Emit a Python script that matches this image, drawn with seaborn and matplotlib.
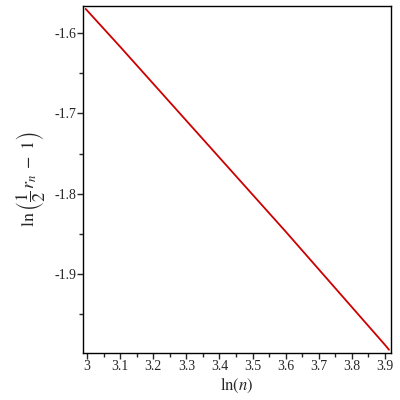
import matplotlib
matplotlib.use('Agg')
import matplotlib.pyplot as plt
import seaborn as sns
import pandas as pd
from matplotlib.ticker import MultipleLocator, FuncFormatter

# values
ln_n = [2.996, 3.1, 3.2, 3.3, 3.4, 3.5, 3.6, 3.7, 3.8, 3.9, 3.912]
ln_r = [-1.570, -1.617, -1.663, -1.709, -1.755, -1.801, -1.847, -1.894, -1.941, -1.988, -1.994]

df = pd.DataFrame({'x': ln_n, 'y': ln_r})

sns.set_style('ticks')
plt.rcParams['font.family'] = ['Liberation Serif', 'DejaVu Serif']
plt.rcParams['mathtext.fontset'] = 'stix'

fig = plt.figure(figsize=(4, 4), dpi=100)
ax = fig.add_axes([0.2075, 0.1175, 0.77, 0.8675])

sns.lineplot(data=df, x='x', y='y', color='#cc0000', linewidth=1.3, ax=ax)

ax.set_xlim(2.988, 3.918)
ax.set_ylim(-1.998, -1.5664)

ax.xaxis.set_major_locator(MultipleLocator(0.1))
ax.xaxis.set_minor_locator(MultipleLocator(0.05))
ax.yaxis.set_major_locator(MultipleLocator(0.1))
ax.yaxis.set_minor_locator(MultipleLocator(0.05))
ax.xaxis.set_major_formatter(FuncFormatter(lambda v, p: f'{v:g}'))
ax.yaxis.set_major_formatter(FuncFormatter(lambda v, p: f'-{abs(v):g}' if v < 0 else f'{v:g}'))

ax.tick_params(axis='both', which='major', length=4, width=1, labelsize=10, pad=1)
ax.tick_params(axis='both', which='minor', length=3, width=1)
for s in ax.spines.values():
    s.set_linewidth(1)
    s.set_color('black')

ax.set_xlabel(r'$\ln(n)$', fontsize=12, labelpad=2)
ax.set_ylabel(r'$\ln\left(\dfrac{1}{2}\,r_n\; -\; 1\right)$', fontsize=13, labelpad=4)

plt.savefig('out.png', dpi=100)
